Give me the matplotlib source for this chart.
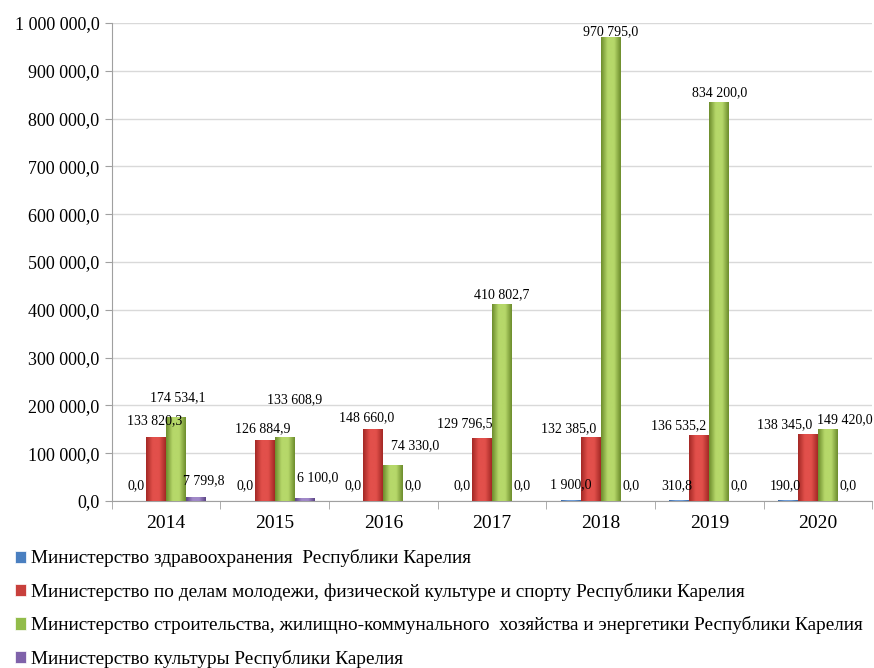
import matplotlib
matplotlib.use("Agg")
import matplotlib.pyplot as plt
import numpy as np
from matplotlib.colors import LinearSegmentedColormap
from matplotlib.patches import Patch

YEARS = ["2014", "2015", "2016", "2017", "2018", "2019", "2020"]

HEALTH = [0.0, 0.0, 0.0, 0.0, 1900.0, 310.8, 190.0]
SPORT = [133820.3, 126884.9, 148660.0, 129796.5, 132385.0, 136535.2, 138345.0]
BUILD = [174534.1, 133608.9, 74330.0, 410802.7, 970795.0, 834200.0, 149420.0]
CULTURE = [7799.8, 6100.0, 0.0, 0.0, 0.0, 0.0, 0.0]

NAMES = [
    "Министерство здравоохранения  Республики Карелия",
    "Министерство по делам молодежи, физической культуре и спорту Республики Карелия",
    "Министерство строительства, жилищно-коммунального  хозяйства и энергетики Республики Карелия",
    "Министерство культуры Республики Карелия",
]

# (edge colour, centre colour, legend colour)
COLORS = [
    ("#3a69a6", "#6f9dd8", "#4a7fc0"),
    ("#a32825", "#e2504b", "#c8403c"),
    ("#6c8c2c", "#b6d86a", "#92bc4a"),
    ("#5c4585", "#a088c8", "#7f62aa"),
]

# label nudges in pixels (dx, dy above bar top) - mimics the excel placement
LABEL_DX = [
    [0, 0, 0, 0, 0, -3, -3],
    [-2, -2, -7, -17, -22, -21, -23],
    [2, 10, 22, 0, 0, 0, 17],
    [8, 13, 0, 0, 0, 0, 0],
]
LABEL_DY = [
    [9, 9, 9, 9, 9, 9, 9],
    [10, 5, 6, 9, 3, 4, 4],
    [13, 31, 13, 3, -1, 3, 3],
    [10, 14, 9, 9, 9, 9, 9],
]


def fmt(v):
    return f"{v:,.1f}".replace(",", " ").replace(".", ",")


def gradient_bar(ax, x0, w, h, c_edge, c_mid):
    cmap = LinearSegmentedColormap.from_list("g", [c_edge, c_mid, c_mid, c_edge])
    grad = np.linspace(0, 1, 64).reshape(1, -1)
    if h <= 0:
        return
    ax.imshow(grad, extent=[x0, x0 + w, 0, h], aspect="auto", cmap=cmap,
              origin="lower", zorder=3, interpolation="bicubic")


def main():
    plt.rcParams["font.family"] = ["Liberation Serif", "DejaVu Serif"]

    fig = plt.figure(figsize=(8.74, 6.68), dpi=100)
    ax = fig.add_axes([0.128, 0.25, 0.870, 0.7155])

    series = [HEALTH, SPORT, BUILD, CULTURE]
    x = np.arange(len(YEARS))
    w = 0.184
    offsets = [-1.5 * w, -0.5 * w, 0.5 * w, 1.5 * w]

    for si, vals in enumerate(series):
        c_edge, c_mid, _ = COLORS[si]
        for i, v in enumerate(vals):
            left = x[i] + offsets[si] - w / 2
            gradient_bar(ax, left, w, v, c_edge, c_mid)
            ax.annotate(fmt(v), (x[i] + offsets[si], v),
                        xytext=(LABEL_DX[si][i], LABEL_DY[si][i]),
                        textcoords="offset pixels", ha="center", va="bottom",
                        fontsize=10, color="black", zorder=5)

    ax.set_xlim(-0.5, len(YEARS) - 0.5)
    ax.set_ylim(0, 1_000_000)

    ax.set_yticks(np.arange(0, 1_000_001, 100_000))
    ax.set_yticklabels([fmt(t) for t in np.arange(0, 1_000_001, 100_000)], fontsize=13)
    ax.set_xticks(x)
    ax.set_xticklabels(YEARS, fontsize=14)
    ax.set_xticks(np.arange(-0.5, len(YEARS), 1), minor=True)
    ax.tick_params(axis="x", which="major", length=0, pad=10)
    ax.tick_params(axis="x", which="minor", length=6, color="#a0a0a0")
    ax.tick_params(axis="y", length=5, color="#a0a0a0", pad=4)

    ax.grid(axis="y", color="#d9d9d9", linewidth=1)
    ax.set_axisbelow(True)
    for side in ["top", "right"]:
        ax.spines[side].set_visible(False)
    for side in ["left", "bottom"]:
        ax.spines[side].set_color("#a0a0a0")

    handles = [Patch(facecolor=c[2], edgecolor="white", linewidth=0.5) for c in COLORS]
    fig.legend(handles, NAMES, loc="upper left", bbox_to_anchor=(0.008, 0.189),
               frameon=False, fontsize=13.9, handlelength=0.6, handleheight=0.6,
               handletextpad=0.25, labelspacing=0.8, borderaxespad=0)

    fig.savefig("out.png", dpi=100)


if __name__ == "__main__":
    main()
